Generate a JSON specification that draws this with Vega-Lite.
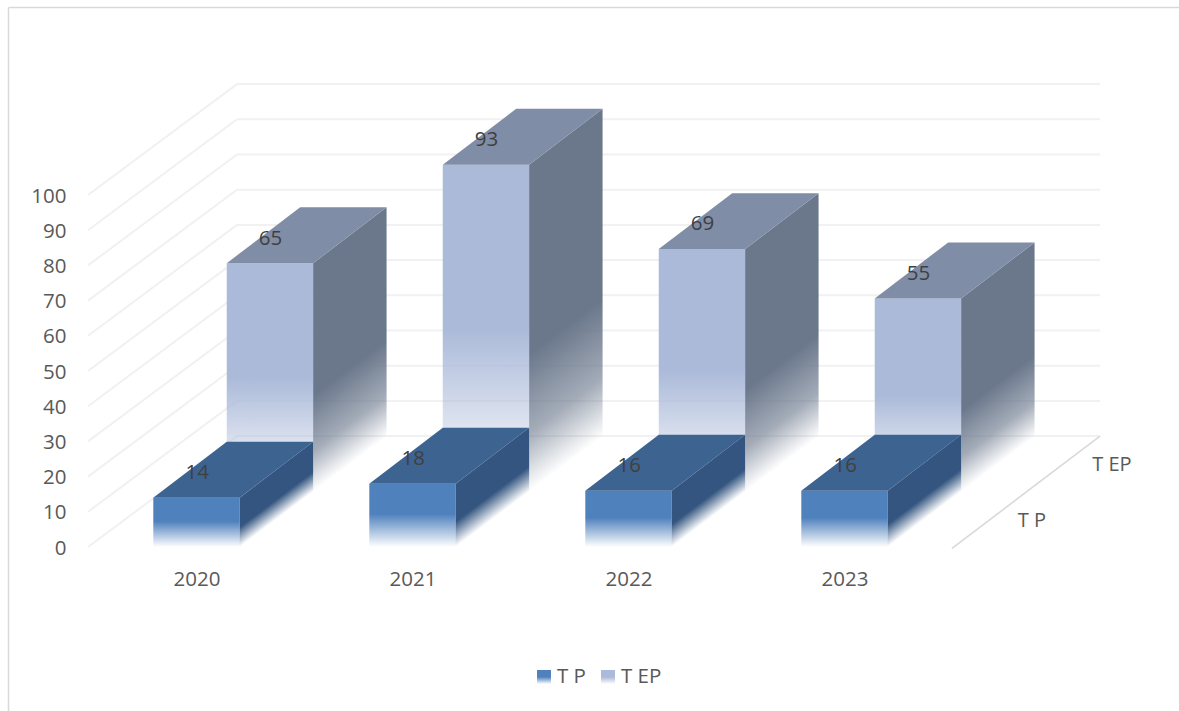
{
"$schema":"https://vega.github.io/schema/vega-lite/v6.json",
"width":1179,"height":711,"padding":0,"autosize":{"type":"none"},"background":"#ffffff",
"config":{"view":{"stroke":null},"font":"Open Sans"},
"datasets":{
"bars":[
{"year":2020,"series":"T EP","value":65},{"year":2021,"series":"T EP","value":93},{"year":2022,"series":"T EP","value":69},{"year":2023,"series":"T EP","value":55},
{"year":2020,"series":"T P","value":14},{"year":2021,"series":"T P","value":18},{"year":2022,"series":"T P","value":16},{"year":2023,"series":"T P","value":16}],
"grid":[{"v":0},{"v":10},{"v":20},{"v":30},{"v":40},{"v":50},{"v":60},{"v":70},{"v":80},{"v":90},{"v":100}],
"depth":[{"series":"T P"},{"series":"T EP"}]
},
"resolve":{"axis":{"x":"independent","y":"independent"}},
"layer":[
{"data":{"values":[{"f":1}]},"mark":{"type":"rule","color":"#D9D9D9","strokeWidth":1.5},
 "encoding":{"x":{"datum":2019.1296,"type":"quantitative","scale":{"domain":[2019.0903,2024.5486],"nice":false,"zero":false},
   "axis":{"values":[2020,2021,2022,2023],"format":"d","title":null,"domain":false,"ticks":false,"grid":false,"offset":-143,"labelPadding":1,"labelFont":"Open Sans","labelFontSize":20.5,"labelColor":"#595959"}},
  "y":{"datum":-46.591,"type":"quantitative","scale":{"domain":[-46.591,155.398],"nice":false,"zero":false},
   "axis":{"values":[0,10,20,30,40,50,60,70,80,90,100],"title":null,"domain":false,"ticks":false,"grid":false,"offset":-71,"labelPadding":5,"labelOffset":1,"labelFont":"Open Sans","labelFontSize":20.5,"labelColor":"#595959"}},
  "y2":{"datum":153.267}}},
{"data":{"values":[{"f":1}]},"mark":{"type":"rule","color":"#D9D9D9","strokeWidth":1.5},
 "encoding":{"x":{"datum":2019.1296,"type":"quantitative","axis":null},"x2":{"datum":2024.5486},"y":{"datum":153.267,"type":"quantitative","axis":null}}},
{"data":{"name":"grid"},"transform":[{"calculate":"datum.v+31.5","as":"vb"}],"mark":{"type":"rule","color":"#F1F1F1","strokeWidth":2},
 "encoding":{"x":{"datum":2019.4977,"type":"quantitative","axis":null},"x2":{"datum":2020.1875},"y":{"field":"v","type":"quantitative","axis":null},"y2":{"field":"vb"}}},
{"data":{"name":"grid"},"transform":[{"calculate":"datum.v+31.5","as":"vb"}],"mark":{"type":"rule","color":"#F1F1F1","strokeWidth":2},
 "encoding":{"x":{"datum":2020.1875,"type":"quantitative","axis":null},"x2":{"datum":2024.183},"y":{"field":"vb","type":"quantitative","axis":null}}},
{"data":{"values":[{"f":1}]},"mark":{"type":"rule","color":"#D9D9D9","strokeWidth":1.6},
 "encoding":{"x":{"datum":2023.4977,"type":"quantitative","axis":null},"x2":{"datum":2024.183},"y":{"datum":-0.4,"type":"quantitative","axis":null},"y2":{"datum":31.5}}},
{"data":{"name":"bars"},"transform":[
 {"calculate":"datum.series=='T P'?0:1","as":"d"},
 {"calculate":"datum.year-0.2+0.34*datum.d","as":"xl"},
 {"calculate":"datum.xl+0.4","as":"xr"},
 {"calculate":"15.625*datum.d","as":"base"},
 {"calculate":"datum.base+datum.value","as":"top"}],
 "encoding":{"x":{"field":"xl","type":"quantitative","axis":null},"x2":{"field":"xr"},"y":{"field":"base","type":"quantitative","axis":null},"y2":{"field":"top"}},
 "layer":[
 {"transform":[{"filter":"datum.series=='T EP'"}],"mark":{"type":"rect","fill":{"gradient":"linear","x1":0,"y1":0,"x2":0,"y2":1,"stops":[{"offset":0,"color":"#ABBAD9"},{"offset":0.5,"color":"#ABBAD9"},{"offset":1,"color":"rgba(171,186,217,0)"}]}}},
 {"transform":[{"filter":"datum.series=='T P'"}],"mark":{"type":"rect","fill":{"gradient":"linear","x1":0,"y1":0,"x2":0,"y2":1,"stops":[{"offset":0,"color":"#4F81BD"},{"offset":0.48,"color":"#4F81BD"},{"offset":1,"color":"rgba(79,129,189,0)"}]}}}
 ]},
{"data":{"name":"bars"},"transform":[
 {"calculate":"datum.series=='T P'?0:1","as":"d"},
 {"calculate":"datum.year-0.2+0.34*datum.d+0.4","as":"xr"},
 {"calculate":"15.625*datum.d","as":"base"},
 {"calculate":"[datum.xr,datum.xr+0.34]","as":"vx"},
 {"calculate":"[datum.base,datum.base+15.625]","as":"vlo"},
 {"calculate":"[datum.base+datum.value,datum.base+datum.value+15.9]","as":"vhi"},
 {"flatten":["vx","vlo","vhi"]}],
 "encoding":{"x":{"field":"vx","type":"quantitative","axis":null},"y":{"field":"vhi","type":"quantitative","axis":null,"stack":null},"y2":{"field":"vlo"}},
 "layer":[
 {"transform":[{"filter":"datum.series=='T EP'&&datum.year==2020"}],"mark":{"type":"area","fill":{"gradient":"linear","x1":0,"y1":0.1938,"x2":0.1506,"y2":0.9708,"stops":[{"offset":0,"color":"#6B788C"},{"offset":0.58,"color":"#6B788C"},{"offset":0.82,"color":"rgba(107,120,140,0.62)"},{"offset":1,"color":"rgba(107,120,140,0)"}]}}},
 {"transform":[{"filter":"datum.series=='T EP'&&datum.year==2021"}],"mark":{"type":"area","fill":{"gradient":"linear","x1":0,"y1":0.1438,"x2":0.1206,"y2":0.9827,"stops":[{"offset":0,"color":"#6B788C"},{"offset":0.58,"color":"#6B788C"},{"offset":0.82,"color":"rgba(107,120,140,0.62)"},{"offset":1,"color":"rgba(107,120,140,0)"}]}}},
 {"transform":[{"filter":"datum.series=='T EP'&&datum.year==2022"}],"mark":{"type":"area","fill":{"gradient":"linear","x1":0,"y1":0.1846,"x2":0.1456,"y2":0.9731,"stops":[{"offset":0,"color":"#6B788C"},{"offset":0.58,"color":"#6B788C"},{"offset":0.82,"color":"rgba(107,120,140,0.62)"},{"offset":1,"color":"rgba(107,120,140,0)"}]}}},
 {"transform":[{"filter":"datum.series=='T EP'&&datum.year==2023"}],"mark":{"type":"area","fill":{"gradient":"linear","x1":0,"y1":0.2212,"x2":0.1642,"y2":0.9637,"stops":[{"offset":0,"color":"#6B788C"},{"offset":0.58,"color":"#6B788C"},{"offset":0.82,"color":"rgba(107,120,140,0.62)"},{"offset":1,"color":"rgba(107,120,140,0)"}]}}},
 {"transform":[{"filter":"datum.series=='T P'&&datum.year==2020"}],"mark":{"type":"area","fill":{"gradient":"linear","x1":0,"y1":0.5273,"x2":0.195,"y2":0.8972,"stops":[{"offset":0,"color":"#33557F"},{"offset":0.6,"color":"#33557F"},{"offset":1,"color":"rgba(51,85,127,0)"}]}}},
 {"transform":[{"filter":"datum.series=='T P'&&datum.year==2021"}],"mark":{"type":"area","fill":{"gradient":"linear","x1":0,"y1":0.4645,"x2":0.2046,"y2":0.905,"stops":[{"offset":0,"color":"#33557F"},{"offset":0.6,"color":"#33557F"},{"offset":1,"color":"rgba(51,85,127,0)"}]}}},
 {"transform":[{"filter":"datum.series=='T P'&&datum.year>=2022"}],"encoding":{"detail":{"field":"year"}},"mark":{"type":"area","fill":{"gradient":"linear","x1":0,"y1":0.4942,"x2":0.2009,"y2":0.9007,"stops":[{"offset":0,"color":"#33557F"},{"offset":0.6,"color":"#33557F"},{"offset":1,"color":"rgba(51,85,127,0)"}]}}}
 ]},
{"data":{"name":"bars"},"transform":[
 {"calculate":"datum.series=='T P'?0:1","as":"d"},
 {"calculate":"datum.year-0.2+0.34*datum.d","as":"xl"},
 {"calculate":"15.625*datum.d+datum.value","as":"top"},
 {"calculate":"datum.year+' '+datum.series","as":"key"},
 {"calculate":"[datum.xl,datum.xl+0.34,datum.xl+0.4,datum.xl+0.74]","as":"vx"},
 {"calculate":"[datum.top,datum.top,datum.top,datum.top+15.9]","as":"vlo"},
 {"calculate":"[datum.top,datum.top+15.9,datum.top+15.9,datum.top+15.9]","as":"vhi"},
 {"flatten":["vx","vlo","vhi"]}],
 "mark":{"type":"area","interpolate":"linear"},
 "encoding":{"x":{"field":"vx","type":"quantitative","axis":null},"y":{"field":"vhi","type":"quantitative","axis":null,"stack":null},"y2":{"field":"vlo"},
  "detail":{"field":"key"},
  "fill":{"field":"series","type":"nominal","legend":null,"scale":{"domain":["T P","T EP"],"range":["#3D6391","#808DA6"]}}}},
{"data":{"name":"bars"},"transform":[
 {"calculate":"datum.series=='T P'?0:1","as":"d"},
 {"calculate":"datum.year+0.003+0.34*datum.d","as":"xc"},
 {"calculate":"15.625*datum.d+datum.value+7.0","as":"yl"}],
 "mark":{"type":"text","font":"Open Sans","fontSize":20.5,"color":"#404040","align":"center","baseline":"middle"},
 "encoding":{"x":{"field":"xc","type":"quantitative","axis":null},"y":{"field":"yl","type":"quantitative","axis":null},"text":{"field":"value","type":"quantitative"}}},
{"data":{"name":"depth"},"transform":[
 {"calculate":"datum.series=='T P'?0:1","as":"d"},
 {"calculate":"2023.868+0.37*datum.d","as":"xc"},
 {"calculate":"7.5+15.9*datum.d","as":"yl"}],
 "mark":{"type":"text","font":"Open Sans","fontSize":20,"color":"#595959","align":"center","baseline":"middle"},
 "encoding":{"x":{"field":"xc","type":"quantitative","axis":null},"y":{"field":"yl","type":"quantitative","axis":null},"text":{"field":"series"}}},
{"data":{"name":"depth"},"transform":[
 {"calculate":"datum.series=='T P'?0:1","as":"d"},
 {"calculate":"2021.5764+0.2963*datum.d","as":"xs"},
 {"calculate":"datum.xs+0.0648","as":"xe"},
 {"calculate":"datum.xs+0.0926","as":"xt"}],
 "layer":[
 {"transform":[{"filter":"datum.d==0"}],"mark":{"type":"rect","fill":{"gradient":"linear","x1":0,"y1":0,"x2":0,"y2":1,"stops":[{"offset":0,"color":"#4F81BD"},{"offset":0.5,"color":"#4F81BD"},{"offset":1,"color":"rgba(79,129,189,0)"}]}},
  "encoding":{"x":{"field":"xs","type":"quantitative","axis":null},"x2":{"field":"xe"},"y":{"datum":-34.94,"type":"quantitative","axis":null},"y2":{"datum":-38.92}}},
 {"transform":[{"filter":"datum.d==1"}],"mark":{"type":"rect","fill":{"gradient":"linear","x1":0,"y1":0,"x2":0,"y2":1,"stops":[{"offset":0,"color":"#ABBAD9"},{"offset":0.5,"color":"#ABBAD9"},{"offset":1,"color":"rgba(171,186,217,0)"}]}},
  "encoding":{"x":{"field":"xs","type":"quantitative","axis":null},"x2":{"field":"xe"},"y":{"datum":-34.94,"type":"quantitative","axis":null},"y2":{"datum":-38.92}}},
 {"mark":{"type":"text","font":"Open Sans","fontSize":20.5,"color":"#595959","align":"left","baseline":"middle"},
  "encoding":{"x":{"field":"xt","type":"quantitative","axis":null},"y":{"datum":-36.9,"type":"quantitative","axis":null},"text":{"field":"series"}}}
 ]}
]
}
